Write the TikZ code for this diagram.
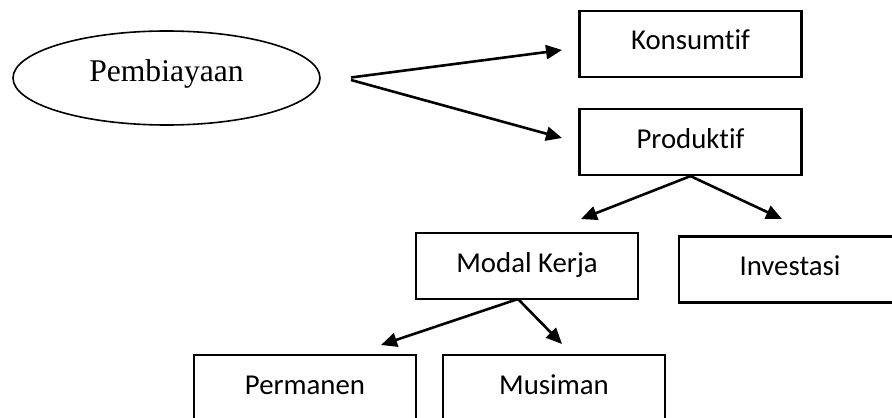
\documentclass[tikz,border=0pt]{standalone}
\usepackage{fontspec}
\setmainfont{Liberation Serif}
\newfontfamily\boxfont[RawFeature={-liga;-clig;-dlig}]{Carlito}
\usetikzlibrary{arrows.meta,shapes.geometric}
\tikzset{
  boxnode/.style={draw, line width=1.1pt, rectangle, minimum width=111pt, minimum height=33pt,
    inner sep=0pt, text height=10pt, text depth=4pt, font=\boxfont\fontsize{14.4pt}{17pt}\selectfont},
  ellnode/.style={draw, line width=0.8pt, ellipse, minimum width=153.5pt, minimum height=47pt,
    inner sep=0pt, text height=8pt, text depth=4pt, font=\fontsize{15.8pt}{19pt}\selectfont},
  arr/.style={line width=1.3pt, -{Triangle[length=8pt,width=7pt]}}
}
\begin{document}
\begin{tikzpicture}[x=0.5pt,y=-0.5pt]
\useasboundingbox (0,0) rectangle (892,417);
\clip (0,0) rectangle (892,417);
\node[ellnode] (pem) at (166.5,78) {Pembiayaan};
\node[boxnode] (kons) at (690.5,44) {Konsumtif};
\node[boxnode] (prod) at (690.5,142) {Produktif};
\node[boxnode] (modal) at (527,266) {Modal Kerja};
\node[boxnode] (inv) at (790,269.5) {Investasi};
\node[boxnode] (perm) at (305,388) {Permanen};
\node[boxnode] (mus) at (554,388) {Musiman};
% connector ends
\coordinate (s1) at (351,77.5);
\coordinate (s2) at (351,80);
\coordinate (t1) at (562,50);
\coordinate (t2) at (562,138);
\coordinate (t3) at (581,219);
\coordinate (t4) at (782,219);
\coordinate (s5) at (518,299);
\coordinate (t5) at (381,345);
\coordinate (t6) at (562,344);
\draw[arr] (s1) -- (t1);
\draw[arr] (s2) -- (t2);
\draw[arr] (prod.south) -- (t3);
\draw[arr] (prod.south) -- (t4);
\draw[arr] (s5) -- (t5);
\draw[arr] (s5) -- (t6);
\end{tikzpicture}
\end{document}
